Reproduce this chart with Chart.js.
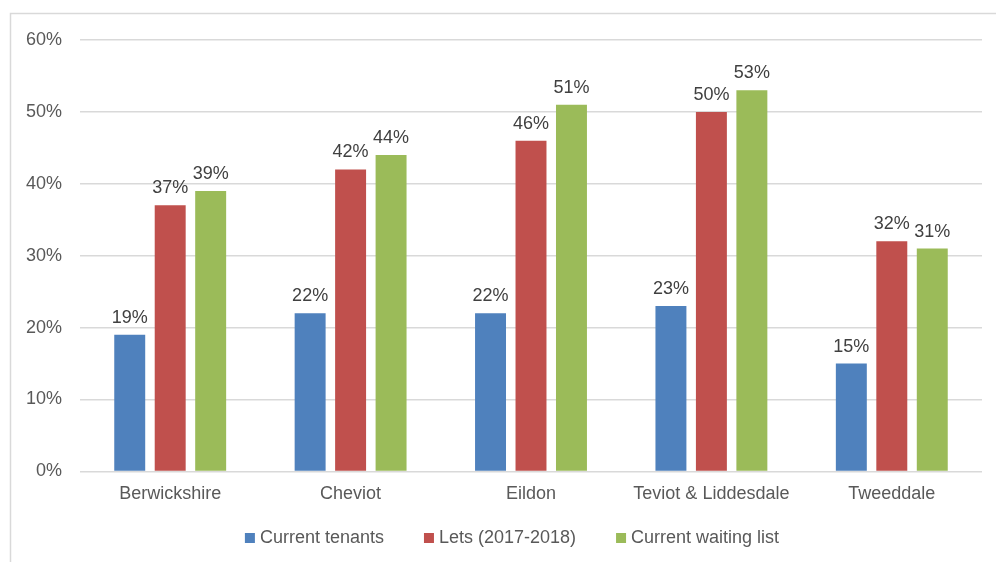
<!DOCTYPE html>
<html>
<head>
<meta charset="utf-8">
<script src="https://cdn.jsdelivr.net/npm/chart.js@4.4.1/dist/chart.umd.min.js"></script>
<style>
  html, body { margin: 0; padding: 0; background: #fff; }
  #wrap { width: 996px; height: 562px; position: relative; }
</style>
</head>
<body>
<div id="wrap"><canvas id="grafico"></canvas></div>
<script>
// dados por área
const areas = ['Berwickshire', 'Cheviot', 'Eildon', 'Teviot & Liddesdale', 'Tweeddale'];
const currentTenants = [19, 22, 22, 23, 15];
const lets2017 = [37, 42, 46, 50, 32];
const waitingList = [39, 44, 51, 53, 31];
const yTicks = [0, 10, 20, 30, 40, 50, 60];

const fonte = '"Liberation Sans", Arial, sans-serif';

// moldura cinza em volta do gráfico
const moldura = {
  id: 'moldura',
  beforeDraw(chart) {
    const ctx = chart.ctx;
    ctx.save();
    ctx.fillStyle = '#fff';
    ctx.fillRect(0, 0, chart.width, chart.height);
    ctx.strokeStyle = '#d9d9d9';
    ctx.lineWidth = 1.5;
    ctx.strokeRect(10.5, 13.5, 1000, 600);
    ctx.restore();
  }
};

// rótulos com o valor em cima de cada barra
const rotulos = {
  id: 'rotulos',
  afterDatasetsDraw(chart) {
    const ctx = chart.ctx;
    ctx.save();
    ctx.font = '18px ' + fonte;
    ctx.fillStyle = '#404040';
    ctx.textAlign = 'center';
    ctx.textBaseline = 'alphabetic';
    chart.data.datasets.forEach((ds, i) => {
      chart.getDatasetMeta(i).data.forEach((bar, j) => {
        ctx.fillText(Math.round(ds.data[j]) + '%', bar.x, bar.y - 12);
      });
    });
    ctx.restore();
  }
};

// legenda embaixo, desenhada à mão (quadradinho + nome da série)
const legenda = {
  id: 'legenda',
  afterDraw(chart) {
    const ctx = chart.ctx;
    const caixa = 10, folga = 5, entre = 40, meio = 512, y = 538;
    ctx.save();
    ctx.font = '18px ' + fonte;
    const itens = chart.data.datasets.map(ds => ({
      texto: ds.label, cor: ds.backgroundColor, w: ctx.measureText(ds.label).width
    }));
    const total = itens.reduce((s, it) => s + caixa + folga + it.w, 0) + entre * (itens.length - 1);
    let x = meio - total / 2;
    ctx.textBaseline = 'middle';
    ctx.textAlign = 'left';
    itens.forEach(it => {
      ctx.fillStyle = it.cor;
      ctx.fillRect(x, y - caixa / 2, caixa, caixa);
      x += caixa + folga;
      ctx.fillStyle = '#595959';
      ctx.fillText(it.texto, x, y);
      x += it.w + entre;
    });
    ctx.restore();
  }
};

const ctx = document.getElementById('grafico').getContext('2d');
const grafico = new Chart(ctx, {
  type: 'bar',
  data: {
    labels: areas,
    datasets: [
      { label: 'Current tenants', data: currentTenants, backgroundColor: '#4F81BD' },
      { label: 'Lets (2017-2018)', data: lets2017, backgroundColor: '#C0504D' },
      { label: 'Current waiting list', data: waitingList, backgroundColor: '#9BBB59' },
    ],
  },
  options: {
    responsive: true,
    maintainAspectRatio: false,
    animation: false,
    categoryPercentage: 0.673,
    barPercentage: 0.765,
    layout: { padding: { top: 40, left: 0, right: 14, bottom: 45 } },
    plugins: {
      tooltip: { enabled: false },
      legend: { display: false },
    },
    scales: {
      x: {
        grid: { display: false, drawTicks: false },
        border: { display: false },
        ticks: {
          color: '#595959',
          padding: 12,
          font: { family: fonte, size: 18 },
        },
      },
      y: {
        min: 0,
        max: 60,
        afterFit(scale) { scale.width = 80; },
        afterBuildTicks(scale) { scale.ticks = yTicks.map(v => ({ value: v })); },
        grid: { color: '#d9d9d9', lineWidth: 1.5, drawTicks: false },
        border: { display: false },
        ticks: {
          color: '#595959',
          padding: 18,
          font: { family: fonte, size: 18 },
          callback: v => v + '%',
        },
      },
    },
  },
  plugins: [moldura, rotulos, legenda],
});
</script>
</body>
</html>
